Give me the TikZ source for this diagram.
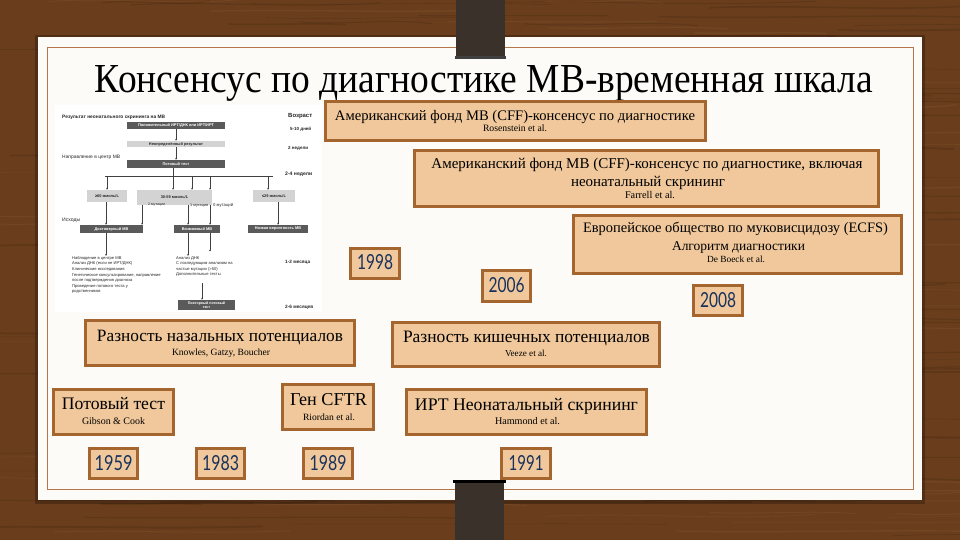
\documentclass[tikz,border=0pt]{standalone}
\usepackage{graphicx}
\usepackage{fontspec}
\setmainfont{Liberation Serif}
\newfontfamily\yearfont{Lato}
\newfontfamily\tinyfont{Liberation Sans}
\usetikzlibrary{arrows.meta}
\definecolor{wood}{HTML}{6A3E1D}
\definecolor{wooddark}{HTML}{4A2810}
\definecolor{woodlight}{HTML}{8A5A30}
\definecolor{cardcol}{HTML}{FDFBF8}
\definecolor{frameline}{HTML}{B5774A}
\definecolor{tanfill}{HTML}{F0C89B}
\definecolor{brdr}{HTML}{A5652F}
\definecolor{yearblue}{HTML}{18325C}
\definecolor{pincol}{HTML}{3A312A}
\definecolor{dkgray}{HTML}{5A5A5A}
\definecolor{ltgray}{HTML}{D3D3D3}
\newcommand\fw[2]{\resizebox{#1pt}{!}{#2}}
\newcommand\fwh[3]{\resizebox{#1pt}{#2pt}{#3}}
\newlength\tmpw
\newcommand\scaleas[3]{\settowidth\tmpw{#2}\pgfmathsetmacro\mysf{#1/\tmpw}\scalebox{\mysf}{#3}}
\begin{document}
\begin{tikzpicture}[x=1pt,y=-1pt,
  evbox/.style={draw=brdr, line width=3pt, fill=tanfill, inner sep=0pt},
  lbl/.style={anchor=base, inner sep=0pt, text=black, font=\fontsize{14}{16}\selectfont},
  sml/.style={anchor=base, inner sep=0pt, text=black, font=\fontsize{8}{9}\selectfont},
  yr/.style={inner sep=0pt, text=yearblue, font=\yearfont\fontsize{20}{20}\selectfont},
  mtxt/.style={font=\tinyfont\fontsize{4.1}{5.6}\selectfont, inner sep=0pt, anchor=west, text=black!85},
  mdk/.style={fill=dkgray, text=white, font=\tinyfont\bfseries\fontsize{3.9}{4.4}\selectfont, inner sep=0pt, align=center},
  mlt/.style={fill=ltgray, text=black!85, font=\tinyfont\bfseries\fontsize{3.9}{4.4}\selectfont, inner sep=0pt, align=center},
  marr/.style={-{Stealth[length=2pt,width=1.6pt]}, line width=0.4pt, black!75},
  mln/.style={line width=0.4pt, black!75}]
\useasboundingbox (0,0) rectangle (960,540);
% wood background
\fill[wood] (0,0) rectangle (960,540);
\pgfmathsetseed{11}
\foreach \i in {1,...,140}{
  \pgfmathsetmacro\yy{rnd*560-10}
  \pgfmathsetmacro\xx{rnd*1000-60}
  \pgfmathsetmacro\ll{100+rnd*300}
  \pgfmathsetmacro\dy{(rnd-0.5)*10}
  \pgfmathsetmacro\lw{0.4+rnd*1.6}
  \draw[wooddark, opacity=0.35, line width=\lw pt] (\xx,\yy) .. controls (\xx+\ll/3,\yy+\dy) and (\xx+2*\ll/3,\yy-\dy) .. (\xx+\ll,\yy+\dy/2);
}
\foreach \i in {1,...,90}{
  \pgfmathsetmacro\yy{rnd*560-10}
  \pgfmathsetmacro\xx{rnd*1000-60}
  \pgfmathsetmacro\ll{80+rnd*250}
  \pgfmathsetmacro\dy{(rnd-0.5)*10}
  \pgfmathsetmacro\lw{0.3+rnd*1.2}
  \draw[woodlight, opacity=0.3, line width=\lw pt] (\xx,\yy) .. controls (\xx+\ll/3,\yy+\dy) and (\xx+2*\ll/3,\yy-\dy) .. (\xx+\ll,\yy+\dy/2);
}
% card
\fill[black, opacity=0.25] (35,35) rectangle (925,504);
\fill[cardcol] (38,37) rectangle (922,500);
\draw[frameline, line width=0.8pt] (47,47) rectangle (913,489);
% pins
\fill[pincol] (456,0) rectangle (505,57);
\fill[black!75] (455,56) rectangle (506,59);
\fill[pincol] (455,482) rectangle (504,540);
\fill[black] (453,480) rectangle (506,483);
% title
\node[anchor=base, inner sep=0pt] (title) at (484,93) {\fwh{778}{27}{\fontsize{40}{40}\selectfont Консенсус по диагностике МВ-временная шкала}};

% ---------- mini flowchart ----------
\fill[white] (55,105) rectangle (322,312);
\node[mtxt] (mT) at (62,117) {\fw{103}{\bfseries Результат неонатального скрининга на МВ}};
\node[mtxt] (mAge) at (288,116) {\fw{24}{\bfseries Возраст}};
\node[mdk, minimum width=98pt, minimum height=7pt] (m1) at (176,125.5) {Положительный ИРТ/ДНК или ИРТ/ИРТ};
\node[mtxt] (t1) at (290,129) {\fw{21}{\bfseries 5-10 дней}};
\node[mlt, minimum width=98pt, minimum height=6pt] (m2) at (176,144) {Неопределённый результат};
\node[mtxt] (t2) at (288,148) {\fw{20}{\bfseries 2 недели}};
\node[mtxt] (mRef) at (62,157) {\fw{58}{Направление в центр МВ}};
\node[mdk, minimum width=98pt, minimum height=8pt] (m3) at (176,164) {Потовый тест};
\node[mtxt] (t3) at (285,174) {\fw{27}{\bfseries 2-4 недели}};
\draw[marr] (m1.south) -- (m2.north);
\draw[marr] (m2.south) -- (m3.north);
\coordinate (busL) at (105,176);
\coordinate (busR) at (273,176);
\draw[mln] (busL) -- (busR);
\node[mlt, minimum width=40pt, minimum height=12pt] (m4a) at (107,196) {≥60 ммоль/L};
\node[mlt, minimum width=75pt, minimum height=15pt] (m4b) at (174.5,197.5) {30-59 ммоль/L};
\node[mlt, minimum width=42pt, minimum height=12pt] (m4c) at (274,196) {≤29 ммоль/L};
\coordinate (b0) at (173,168);
\coordinate (b1) at (192,176);
\coordinate (b2) at (210,176);
\coordinate (b3) at (107,176);
\coordinate (b4) at (268,176);
\draw[marr] (b0) -- (b0 |- m4b.north);
\draw[marr] (b1) -- (b1 |- m4b.north);
\draw[marr] (b2) -- (b2 |- m4b.north);
\draw[marr] (b3) -- (m4a.north);
\draw[marr] (b4) -- (b4 |- m4c.north);
\node[mtxt] (mOut) at (62,220) {\fw{18}{Исходы}};
\node[mdk, minimum width=63pt, minimum height=8pt] (m5a) at (111.5,229) {Достоверный МВ};
\node[mdk, minimum width=46pt, minimum height=8pt] (m5b) at (197,229) {Возможный МВ};
\node[mdk, minimum width=60pt, minimum height=8pt] (m5c) at (278,229) {Низкая вероятность МВ};
\coordinate (c1) at (106,202);
\coordinate (c2) at (142,205);
\coordinate (c3) at (188,205);
\coordinate (c4) at (210,205);
\coordinate (c5) at (278,202);
\draw[marr] (c1) -- (c1 |- m5a.north);
\draw[marr] (c2) -- (c2 |- m5a.north);
\draw[marr] (c3) -- (c3 |- m5b.north);
\draw[marr] (c4) -- (c4 |- m5b.north);
\draw[marr] (c5) -- (c5 |- m5c.north);
\node[mtxt] (l1) at (148,205) {\fw{17}{2 мутации}};
\node[mtxt] (l2) at (190,206) {\fw{18}{1 мутация}};
\node[mtxt] (l3) at (213,205) {\fw{20}{0 мутаций}};
\node[mtxt, anchor=north west, align=left] (mLeft) at (72,256) {Наблюдение в центре МВ\\Анализ ДНК (если не ИРТ/ДНК)\\Клинические исследования\\Генетическое консультирование, направление\\после подтверждения диагноза\\Проведение потового теста у\\родственников};
\node[mtxt, anchor=north west, align=left] (mMid) at (176,256) {Анализ ДНК\\С последующим анализом на\\частые мутации (>50)\\Дополнительные тесты};
\node[mtxt] (t4) at (285,262) {\fw{25}{\bfseries 1-2 месяца}};
\coordinate (d1) at (106,233);
\coordinate (d2) at (188,233);
\coordinate (d3) at (210,233);
\draw[marr] (d1) -- (d1 |- mLeft.north);
\draw[marr] (d2) -- (d2 |- mMid.north);
\draw[mln] (d3) -- (210,250);
\fill[black!75] (210,250.5) circle (0.8pt);
\node[mdk, minimum width=57pt, minimum height=10pt, font=\tinyfont\bfseries\fontsize{3.6}{4}\selectfont] (m6) at (206.5,305) {Повторный потовый\\тест};
\coordinate (e1) at (202,283);
\draw[marr] (e1) -- (e1 |- m6.north);
\node[mtxt] (t5) at (285,307) {\fw{28}{\bfseries 2-6 месяцев}};

% ---------- main boxes ----------
\node[evbox, minimum width=380pt, minimum height=39pt] (bA) at (515.5,121) {};
\node[lbl] (tA1) at (515,121) {\fw{360}{Американский фонд МВ (CFF)-консенсус по диагностике}};
\node[sml] (tA2) at (515,131.5) {\fw{64}{Rosenstein et al.}};

\node[evbox, minimum width=464pt, minimum height=56pt] (bB) at (646.5,178.5) {};
\node[lbl] (tB1) at (647,168) {\fw{431}{Американский фонд МВ (CFF)-консенсус по диагностике, включая}};
\node[lbl] (tB2) at (648,186) {\scaleas{431}{Американский фонд МВ (CFF)-консенсус по диагностике, включая}{неонатальный скрининг}};
\node[sml] (tB3) at (650,198.5) {\fw{50}{Farrell et al.}};

\node[evbox, minimum width=328pt, minimum height=58pt] (bC) at (737.5,244.5) {};
\node[lbl] (tC1) at (735.5,233) {\fw{305}{Европейское общество по муковисцидозу (ECFS)}};
\node[lbl] (tC2) at (738.5,250) {\fw{133}{Алгоритм диагностики}};
\node[sml] (tC3) at (736,262.5) {\fw{58}{De Boeck et al.}};

\node[evbox, minimum width=49pt, minimum height=30pt] (y2008) at (718,300.5) {};
\node[yr] (y2008t) at (718,300) {\fwh{36}{15}{2008}};
\node[evbox, minimum width=49pt, minimum height=30pt] (y1998) at (375,263.5) {};
\node[yr] (y1998t) at (375,262.5) {\fwh{36}{15}{1998}};
\node[evbox, minimum width=48pt, minimum height=31pt] (y2006) at (506.5,286) {};
\node[yr] (y2006t) at (506.5,285.5) {\fwh{36}{15}{2006}};

\node[evbox, minimum width=269pt, minimum height=45pt] (bN) at (220,343) {};
\node[lbl] (tN1) at (220,341) {\fw{246}{Разность назальных потенциалов}};
\node[sml] (tN2) at (221,355) {\fw{98}{Knowles, Gatzy, Boucher}};

\node[evbox, minimum width=267pt, minimum height=44pt] (bI) at (526,344.5) {};
\node[lbl] (tI1) at (526.5,342) {\fw{247}{Разность кишечных потенциалов}};
\node[sml] (tI2) at (526,356) {\fw{42}{Veeze et al.}};

\node[evbox, minimum width=120pt, minimum height=45pt] (bS) at (113.5,412) {};
\node[lbl] (tS1) at (113.5,409.5) {\fw{103}{Потовый тест}};
\node[sml] (tS2) at (113.5,424) {\fw{63}{Gibson \& Cook}};

\node[evbox, minimum width=91pt, minimum height=45pt] (bG) at (328,407) {};
\node[lbl] (tG1) at (328.5,405) {\fw{77}{Ген CFTR}};
\node[sml] (tG2) at (329,420) {\fw{52}{Riordan et al.}};

\node[evbox, minimum width=240pt, minimum height=45pt] (bR) at (526.5,412) {};
\node[lbl] (tR1) at (526.5,410) {\fw{223}{ИРТ Неонатальный скрининг}};
\node[sml] (tR2) at (527.5,424) {\fw{65}{Hammond et al.}};

\node[evbox, minimum width=48pt, minimum height=30pt] (y1959) at (113.5,463.5) {};
\node[yr] (y1959t) at (113.5,463) {\fwh{38}{15}{1959}};
\node[evbox, minimum width=48pt, minimum height=30pt] (y1983) at (220.5,463.5) {};
\node[yr] (y1983t) at (220.5,463) {\fwh{37}{15}{1983}};
\node[evbox, minimum width=49pt, minimum height=30pt] (y1989) at (328,463.5) {};
\node[yr] (y1989t) at (328,463) {\fwh{37}{15}{1989}};
\node[evbox, minimum width=49pt, minimum height=30pt] (y1991) at (526,463.5) {};
\node[yr] (y1991t) at (526,463) {\fwh{35}{15}{1991}};
\end{tikzpicture}
\end{document}
